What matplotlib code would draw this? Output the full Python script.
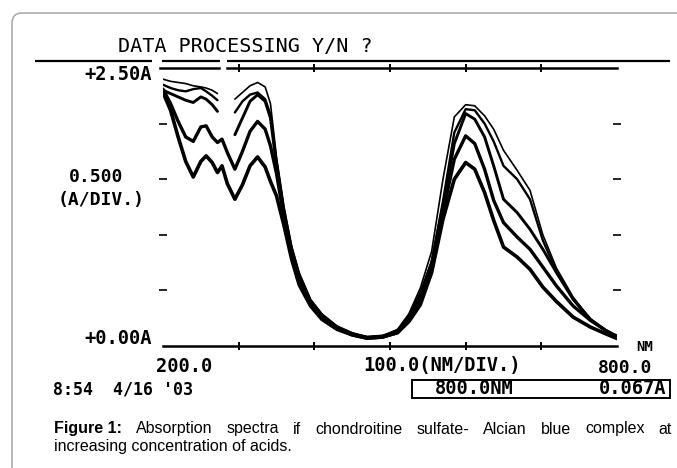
import matplotlib
matplotlib.use("Agg")
import matplotlib.pyplot as plt
import numpy as np
from matplotlib.patches import FancyBboxPatch, Rectangle
from matplotlib.lines import Line2D
from matplotlib.transforms import IdentityTransform

W, H = 677, 468
nan = np.nan

# ---------------- data ----------------
wavelength = [200, 210, 220, 230, 240, 250, 257, 265, 272, 278, 285, 295, 305, 315,
              325, 335, 342, 350, 360, 370, 380, 395, 410, 430, 450, 470, 490, 510,
              525, 540, 555, 570, 585, 600, 612, 625, 637, 650, 668, 685, 702, 720,
              742, 765, 785, 800]

abs_c1 = [2.40, 2.38, 2.37, 2.36, 2.34, 2.33, 2.32, 2.30, 2.27, nan, nan, 2.22, 2.28, 2.34,
          2.37, 2.33, 2.18, 1.70, 1.25, 0.90, 0.66, 0.42, 0.29, 0.18, 0.12, 0.08, 0.09, 0.15,
          0.29, 0.52, 0.85, 1.50, 2.06, 2.17, 2.16, 2.07, 1.95, 1.76, 1.58, 1.40, 1.00, 0.70,
          0.44, 0.24, 0.14, 0.09]
abs_c2 = [2.35, 2.32, 2.30, 2.29, 2.31, 2.32, 2.29, 2.25, 2.21, nan, nan, 2.10, 2.20, 2.26,
          2.28, 2.22, 2.08, 1.66, 1.22, 0.88, 0.64, 0.41, 0.28, 0.17, 0.11, 0.08, 0.09, 0.14,
          0.27, 0.48, 0.76, 1.30, 1.92, 2.13, 2.12, 2.00, 1.84, 1.62, 1.50, 1.32, 0.95, 0.67,
          0.42, 0.23, 0.14, 0.09]
abs_c3 = [2.30, 2.27, 2.24, 2.21, 2.19, 2.24, 2.22, 2.17, 2.11, nan, nan, 1.90, 2.05, 2.20,
          2.26, 2.20, 2.05, 1.62, 1.18, 0.86, 0.62, 0.40, 0.27, 0.17, 0.11, 0.08, 0.09, 0.13,
          0.25, 0.44, 0.74, 1.26, 1.82, 2.09, 2.04, 1.88, 1.62, 1.32, 1.20, 1.05, 0.87, 0.66,
          0.42, 0.24, 0.14, 0.09]
abs_c4 = [2.31, 2.18, 2.02, 1.88, 1.84, 1.97, 1.98, 1.88, 1.83, 1.86, 1.74, 1.59, 1.75, 1.93,
          2.02, 1.95, 1.80, 1.55, 1.15, 0.84, 0.60, 0.39, 0.26, 0.16, 0.10, 0.07, 0.08, 0.12,
          0.23, 0.40, 0.70, 1.20, 1.68, 1.89, 1.82, 1.59, 1.31, 1.11, 0.98, 0.87, 0.71, 0.54,
          0.36, 0.23, 0.14, 0.08]
abs_c5 = [2.28, 2.12, 1.88, 1.66, 1.52, 1.66, 1.71, 1.65, 1.56, 1.62, 1.46, 1.32, 1.45, 1.62,
          1.70, 1.61, 1.48, 1.35, 1.08, 0.78, 0.55, 0.36, 0.24, 0.15, 0.10, 0.07, 0.08, 0.12,
          0.22, 0.37, 0.66, 1.14, 1.50, 1.65, 1.59, 1.38, 1.13, 0.89, 0.80, 0.69, 0.53, 0.40,
          0.26, 0.17, 0.11, 0.067]

series = [abs_c1, abs_c2, abs_c3, abs_c4, abs_c5]
x_ticks = [300, 400, 500, 600, 700]
y_ticks = [0.5, 1.0, 1.5, 2.0]

header_text = "DATA PROCESSING Y/N ?"
y_top_label = "+2.50A"
y_scale_value = "0.500"
y_scale_unit = "(A/DIV.)"
y_bottom_label = "+0.00A"
x_left_label = "200.0"
x_scale_label = "100.0(NM/DIV.)"
x_right_label = "800.0"
x_unit_label = "NM"
timestamp = "8:54  4/16 '03"
cursor_wl = "800.0NM"
cursor_abs = "0.067A"
caption_bold = "Figure 1:"
caption_line1 = "Absorption spectra if chondroitine sulfate- Alcian blue complex at"
caption_line2 = "increasing concentration of acids."

# ---------------- figure ----------------
fig = plt.figure(figsize=(W / 100, H / 100), dpi=100)
fig.patch.set_facecolor("white")

def fx(px):
    return px / W

def fy(py):
    return 1 - py / H

# rounded frame
frame = FancyBboxPatch((12, -40), 760, (H - 13) + 40,
                       boxstyle="round,pad=0,rounding_size=10",
                       transform=IdentityTransform(), fill=False,
                       edgecolor="#a6a6a6", linewidth=1.1)
fig.add_artist(frame)

# header rule (with small gaps as in the printout)
for xa, xb in [(35, 152), (162, 220), (227, 670)]:
    fig.add_artist(Line2D([xa, xb], [H - 61, H - 61], transform=IdentityTransform(),
                          color="black", linewidth=1.6, solid_capstyle="butt"))

ax = fig.add_axes([fx(163), fy(346), 454 / W, 278 / H])
ax.set_xlim(200, 800)
ax.set_ylim(0, 2.5)
ax.patch.set_alpha(0)
for s in ["left", "right", "top"]:
    ax.spines[s].set_visible(False)
ax.spines["bottom"].set_linewidth(1.8)
# top frame line with the lamp-change gap
ax.axhline(2.5, xmin=-0.006, xmax=(274 - 200) / 600, color="black", lw=1.8, clip_on=False)
ax.axhline(2.5, xmin=(284 - 200) / 600, xmax=1.0, color="black", lw=1.8, clip_on=False)
ax.set_xticks(x_ticks)
ax.set_yticks(y_ticks)
ax.tick_params(axis="x", direction="inout", length=6, width=1.4, top=True, bottom=True,
               labelbottom=False, labeltop=False)
ax.tick_params(axis="y", direction="inout", length=6, width=1.2, left=True, right=True,
               labelleft=False, labelright=False)

widths = [1.2, 1.7, 2.1, 2.4, 2.6]
for vals, lw in zip(series, widths):
    ax.plot(wavelength, vals, color="black", linewidth=lw, solid_joinstyle="round",
            solid_capstyle="round")

mono = "DejaVu Sans Mono"
fs = 13.5
fig.text(fx(245), fy(47), header_text, family=mono, fontsize=14.5, ha="center", va="center")
fig.text(fx(152), fy(75), y_top_label, family=mono, weight="bold", fontsize=fs, ha="right", va="center")
fig.text(fx(96), fy(177), y_scale_value, family=mono, weight="bold", fontsize=13, ha="center", va="center")
fig.text(fx(101), fy(200), y_scale_unit, family=mono, weight="bold", fontsize=13, ha="center", va="center")
fig.text(fx(152), fy(339), y_bottom_label, family=mono, weight="bold", fontsize=fs, ha="right", va="center")
fig.text(fx(184), fy(366), x_left_label, family=mono, weight="bold", fontsize=fs, ha="center", va="center")
fig.text(fx(442), fy(366), x_scale_label, family=mono, weight="bold", fontsize=fs, ha="center", va="center")
fig.text(fx(625), fy(368), x_right_label, family=mono, weight="bold", fontsize=13, ha="center", va="center")
fig.text(fx(645), fy(347), x_unit_label, family=mono, weight="bold", fontsize=10, ha="center", va="center")
fig.text(fx(53), fy(390), timestamp, family=mono, weight="bold", fontsize=12, ha="left", va="center")

box = Rectangle((412, H - 398), 258, 18, transform=IdentityTransform(), fill=False,
                edgecolor="black", linewidth=1.4)
fig.add_artist(box)
fig.text(fx(474), fy(389), cursor_wl, family=mono, weight="bold", fontsize=fs, ha="center", va="center")
fig.text(fx(633), fy(389), cursor_abs, family=mono, weight="bold", fontsize=fs, ha="center", va="center")

# caption: first line justified between x=54 and x=672
sans = "Liberation Sans"
cap_fs = 11.5
renderer = fig.canvas.get_renderer()
pieces = [(caption_bold, "bold")] + [(w, "normal") for w in caption_line1.split(" ")]
texts = []
total = 0.0
for word, wt in pieces:
    t = fig.text(0, fy(429), word, family=sans, weight=wt, fontsize=cap_fs, ha="left", va="center")
    w = t.get_window_extent(renderer).width
    texts.append((t, w))
    total += w
left, right = 54.0, 672.0
gap = (right - left - total) / (len(texts) - 1)
xcur = left
for t, w in texts:
    t.set_x(xcur / W)
    xcur += w + gap
fig.text(fx(54), fy(446), caption_line2, family=sans, fontsize=cap_fs, ha="left", va="center")

fig.savefig("out.png", dpi=100, facecolor="white")
